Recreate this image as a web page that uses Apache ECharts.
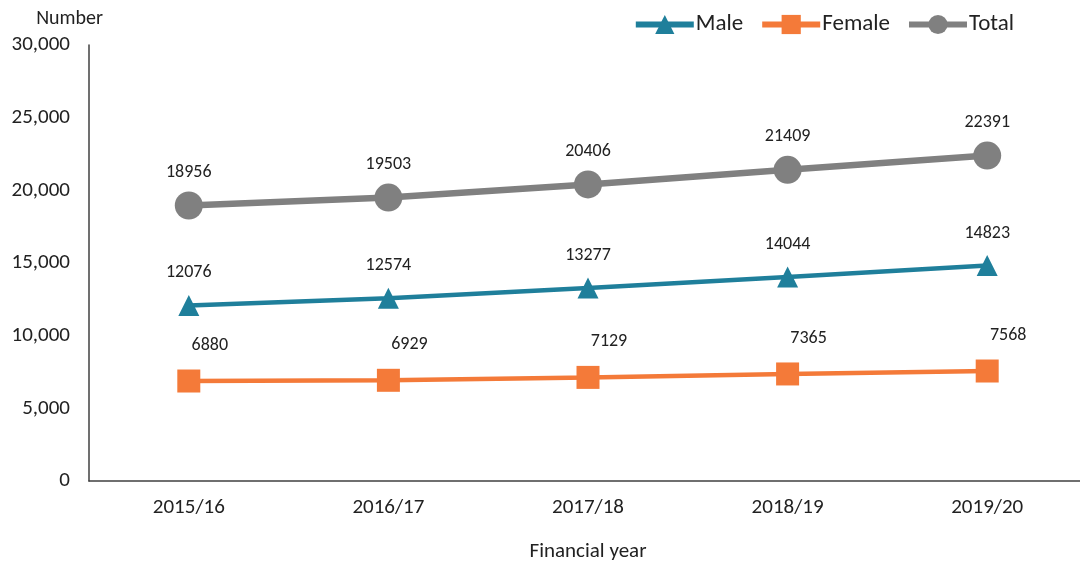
<!DOCTYPE html>
<html><head><meta charset="utf-8">
<script src="https://cdn.jsdelivr.net/npm/echarts@6/dist/echarts.min.js"></script>
<style>html,body{margin:0;padding:0;background:#fff}#c{width:1080px;height:565px}</style>
</head><body><div id="c"></div>
<script>
const categories = ['2015/16','2016/17','2017/18','2018/19','2019/20'];
const male = [12076, 12574, 13277, 14044, 14823];
const female = [6880, 6929, 7129, 7365, 7568];
const total = [18956, 19503, 20406, 21409, 22391];
const yTicks = [0, 5000, 10000, 15000, 20000, 25000, 30000];

const font = 'Calibri, Carlito, Lato, "Open Sans", sans-serif';
const chart = echarts.init(document.getElementById('c'));
const lbl = (extra) => Object.assign({show:true, position:'top', color:'#222', fontSize:18, fontFamily:font}, extra);
chart.setOption({
  animation:false,
  textStyle:{fontFamily:font},
  legend:{
    right:61, top:8, itemWidth:58, itemHeight:24, itemGap:16,
    textStyle:{fontSize:23, color:'#222', fontFamily:font, padding:[0,0,0,-3]},
    lineStyle:{width:6},
    data:['Male','Female','Total']
  },
  grid:{left:89, top:45, bottom:84, width:998, outerBoundsMode:'none', containLabel:false},
  xAxis:{
    type:'category', data:categories, boundaryGap:true,
    name:'Financial year', nameLocation:'middle', nameGap:60,
    nameTextStyle:{fontSize:21, color:'#222', fontFamily:font},
    axisLine:{lineStyle:{color:'#404040', width:1.5}},
    axisTick:{show:false},
    axisLabel:{fontSize:21, color:'#222', margin:16, fontFamily:font}
  },
  yAxis:{
    type:'value', min:yTicks[0], max:yTicks[yTicks.length-1], interval:5000,
    name:'Number', nameLocation:'end', nameGap:16,
    nameTextStyle:{fontSize:20, color:'#222', align:'right', padding:[0,-14,0,0], fontFamily:font},
    axisLine:{show:true, lineStyle:{color:'#404040', width:1.5}},
    axisTick:{show:false},
    splitLine:{show:false},
    axisLabel:{fontSize:21, color:'#222', margin:19, fontFamily:font,
      formatter:v=>v.toLocaleString('en-US')}
  },
  series:[
    {name:'Male', type:'line', data:male, symbol:'triangle', symbolSize:21,
      lineStyle:{color:'#1f7f9b', width:4.5}, itemStyle:{color:'#1f7f9b'},
      label:lbl({distance:13})},
    {name:'Female', type:'line', data:female, symbol:'rect', symbolSize:23,
      lineStyle:{color:'#f47a39', width:4.5}, itemStyle:{color:'#f47a39'},
      label:lbl({distance:15, offset:[21,0]})},
    {name:'Total', type:'line', data:total, symbol:'circle', symbolSize:28,
      lineStyle:{color:'#808080', width:6.5}, itemStyle:{color:'#808080'},
      label:lbl({distance:10})}
  ]
});
</script></body></html>
